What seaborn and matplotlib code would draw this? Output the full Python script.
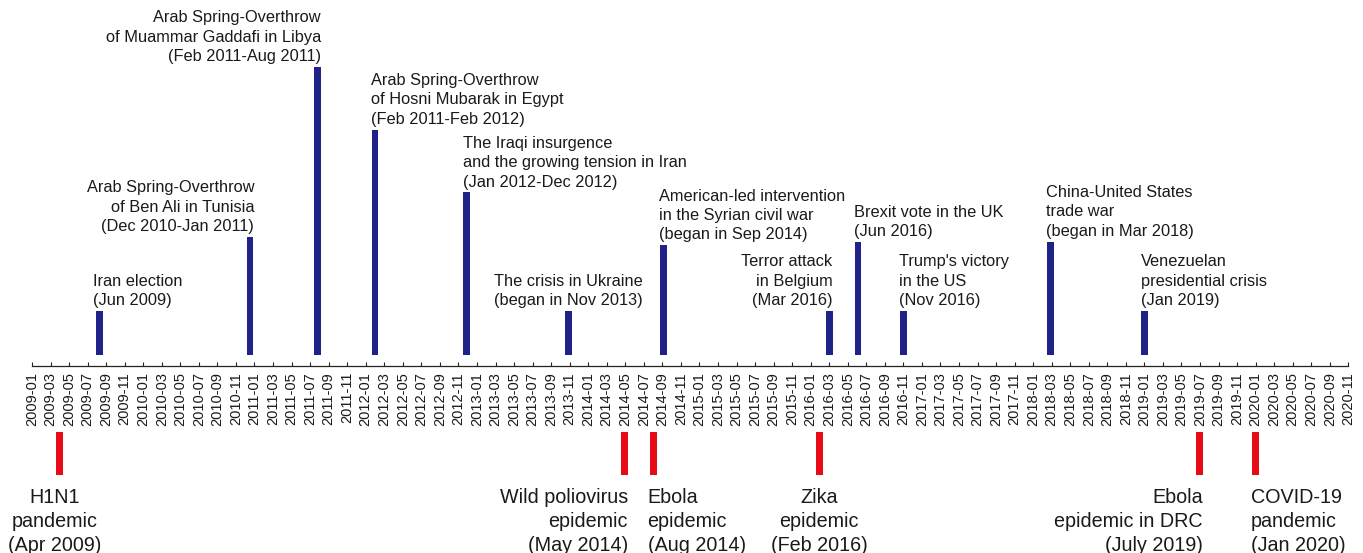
import numpy as np
import matplotlib
matplotlib.use("Agg")
import matplotlib.pyplot as plt
import seaborn as sns

# ---------------- data ----------------
# month index: 0 = 2009-01, 1 = 2009-02, ...
blue_month = [7.3, 23.5, 30.8, 37.0, 46.9, 57.9, 68.1, 86.0, 89.1, 94.0, 109.9, 120.0]
blue_height = [1.0, 2.67, 6.51, 5.09, 3.67, 1.0, 2.48, 1.0, 2.55, 1.0, 2.56, 1.0]
blue_labels = [
    "Iran election\n(Jun 2009)",
    "Arab Spring-Overthrow\nof Ben Ali in Tunisia\n(Dec 2010-Jan 2011)",
    "Arab Spring-Overthrow\nof Muammar Gaddafi in Libya\n(Feb 2011-Aug 2011)",
    "Arab Spring-Overthrow\nof Hosni Mubarak in Egypt\n(Feb 2011-Feb 2012)",
    "The Iraqi insurgence\nand the growing tension in Iran\n(Jan 2012-Dec 2012)",
    "The crisis in Ukraine\n(began in Nov 2013)",
    "American-led intervention\nin the Syrian civil war\n(began in Sep 2014)",
    "Terror attack\nin Belgium\n(Mar 2016)",
    "Brexit vote in the UK\n(Jun 2016)",
    "Trump's victory\nin the US\n(Nov 2016)",
    "China-United States\ntrade war\n(began in Mar 2018)",
    "Venezuelan\npresidential crisis\n(Jan 2019)",
]
blue_align = ["left", "right", "right", "left", "left", "center",
              "left", "right", "left", "left", "left", "left"]
blue_dx = [-3, 1, 0, -1, 0, 0, -1, 0, -1, -1, -1, 0]   # label nudges, px

red_month = [2.95, 63.9, 67.0, 84.9, 125.9, 132.0]
red_height = [0.98, 0.98, 0.98, 0.98, 0.98, 0.98]
red_labels = [
    "H1N1\npandemic\n(Apr 2009)",
    "Wild poliovirus\nepidemic\n(May 2014)",
    "Ebola\nepidemic\n(Aug 2014)",
    "Zika\nepidemic\n(Feb 2016)",
    "Ebola\nepidemic in DRC\n(July 2019)",
    "COVID-19\npandemic\n(Jan 2020)",
]
red_align = ["center", "right", "left", "center", "right", "left"]
red_dx = [-5, 0, -2, 0, 0, -1]   # label nudges, px

tick_months = list(range(0, 143, 2))
tick_labels = [f"{2009 + m // 12}-{m % 12 + 1:02d}" for m in tick_months]

# ---------------- style ----------------
sns.set_style("white")
plt.rcParams["font.family"] = ["Liberation Sans", "DejaVu Sans"]

BLUE = "#1F2388"
RED = "#E60B17"
TXT = "#1a1a1a"

PX_PER_MONTH = 9.27
PX_PER_UNIT = 44.3
X0_PX = 32.0
Y0_PX = 355.0
W, H = 1363, 553
PT = 72 / 100  # points per pixel at dpi 100

fig = plt.figure(figsize=(W / 100, H / 100), dpi=100)
ax = fig.add_axes([0, 0, 1, 1])

blue_w = 0.72
red_w = 0.76
bw = blue_w / np.diff(np.unique(blue_month)).min()
rw = red_w / np.diff(np.unique(red_month)).min()

sns.barplot(x=blue_month, y=blue_height, native_scale=True, orient="x",
            width=bw, color=BLUE, saturation=1, errorbar=None, ax=ax,
            linewidth=0)
red_bottom = -(475.0 - Y0_PX) / PX_PER_UNIT
sns.barplot(x=red_month, y=red_height, native_scale=True, orient="x",
            width=rw, color=RED, saturation=1, errorbar=None, ax=ax,
            linewidth=0, bottom=red_bottom)

ax.set_xlim(-X0_PX / PX_PER_MONTH, (W - X0_PX) / PX_PER_MONTH)
ax.set_ylim(-(H - Y0_PX) / PX_PER_UNIT, Y0_PX / PX_PER_UNIT)

# axis
for s in ["left", "top", "right"]:
    ax.spines[s].set_visible(False)
ax.spines["bottom"].set_position(("data", -11.0 / PX_PER_UNIT))
ax.spines["bottom"].set_bounds(0, 142)
ax.spines["bottom"].set_color("#222222")
ax.spines["bottom"].set_linewidth(0.9)
ax.set_xticks(tick_months)
ax.set_xticklabels(tick_labels, rotation=90, fontsize=10.5, color=TXT)
ax.tick_params(axis="x", direction="in", length=3, width=0.8, pad=4.3,
               color="#222222", bottom=True)
ax.set_yticks([])
ax.set_xlabel("")
ax.set_ylabel("")

# blue labels
for m, h, lab, al, dx in zip(blue_month, blue_height, blue_labels, blue_align, blue_dx):
    if al == "left":
        x = m - blue_w / 2
    elif al == "right":
        x = m + blue_w / 2
    else:
        x = m
    ax.annotate(lab, xy=(x, h), xytext=(dx * PT, 2), textcoords="offset points",
                ha=al, va="bottom", multialignment=al, fontsize=11.75,
                color=TXT, linespacing=1.36)

# red labels
for m, lab, al, dx in zip(red_month, red_labels, red_align, red_dx):
    if al == "left":
        x = m - red_w / 2
    elif al == "right":
        x = m + red_w / 2
    else:
        x = m
    ax.annotate(lab, xy=(x, red_bottom), xytext=(dx * PT, -9.3), textcoords="offset points",
                ha=al, va="top", multialignment=al, fontsize=14.2,
                color=TXT, linespacing=1.33)

fig.savefig("out.png", dpi=100)
